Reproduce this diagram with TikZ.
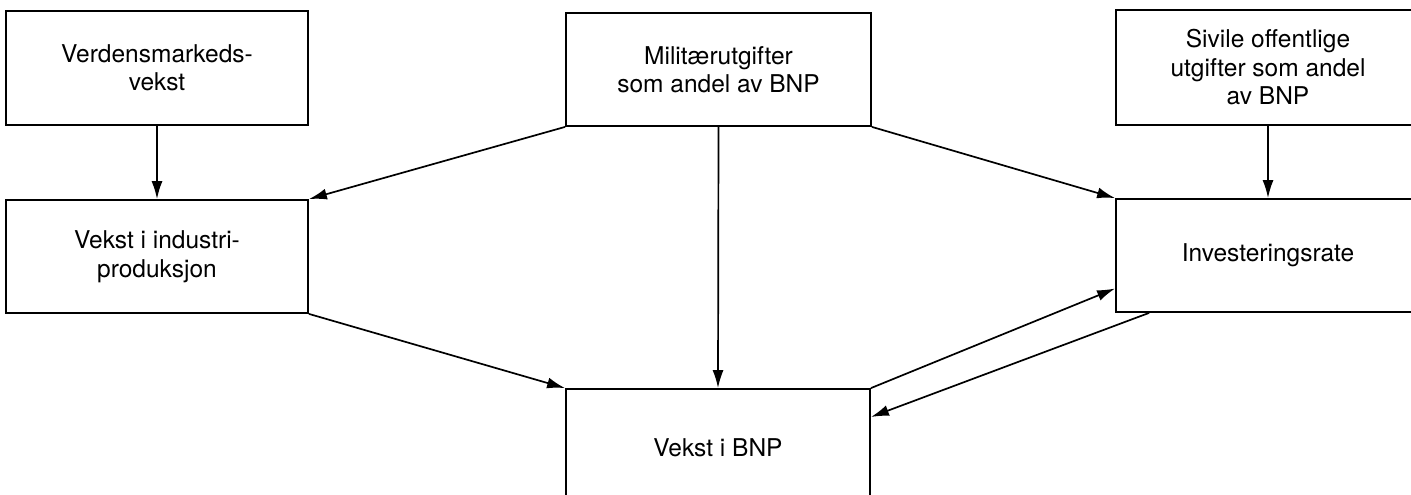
\documentclass[tikz,border=0pt]{standalone}
\usepackage{fontspec}
\setmainfont{TeX Gyre Heros}
\usetikzlibrary{arrows.meta}
\begin{document}
\begin{tikzpicture}[x=1pt,y=-1pt,
  box/.style={draw,line width=1.8pt,inner sep=0pt,align=center,font=\fontsize{24.5}{28.5}\selectfont},
  conn/.style={line width=1.7pt,-{Latex[length=18pt,width=11pt]}}]
\useasboundingbox[fill=white] (0,0) rectangle (1411,495);
\clip (0,0) rectangle (1411,495);
\node[box,minimum width=302pt,minimum height=114pt] (verd) at (157,68) {Verdensmarkeds-\\vekst};
\node[box,minimum width=305pt,minimum height=113pt] (mil) at (718.5,69.5) {Militærutgifter\\som andel av BNP};
\node[box,minimum width=304pt,minimum height=115pt] (siv) at (1268,67.5) {Sivile offentlige\\utgifter som andel\\av BNP};
\node[box,minimum width=302pt,minimum height=113pt] (ind) at (157,256.5) {Vekst i industri-\\produksjon};
\node[box,minimum width=304pt,minimum height=113pt] (inv) at (1268,255.5) {Investeringsrate};
\node[box,minimum width=304pt,minimum height=118pt] (bnp) at (718,448) {Vekst i BNP};
\draw[conn] (verd.south) -- (ind.north);
\draw[conn] (siv.south) -- (inv.north);
\draw[conn] (mil.south) -- (bnp.north);
\draw[conn] (mil.south west) -- (ind.north east);
\draw[conn] (mil.south east) -- (inv.north west);
\draw[conn] (ind.south east) -- (bnp.north west);
\draw[conn] (bnp.north east) -- ([yshift=-33pt]inv.west);
\draw[conn] ([xshift=34pt]inv.south west) -- ([yshift=31pt]bnp.east);
\end{tikzpicture}
\end{document}
